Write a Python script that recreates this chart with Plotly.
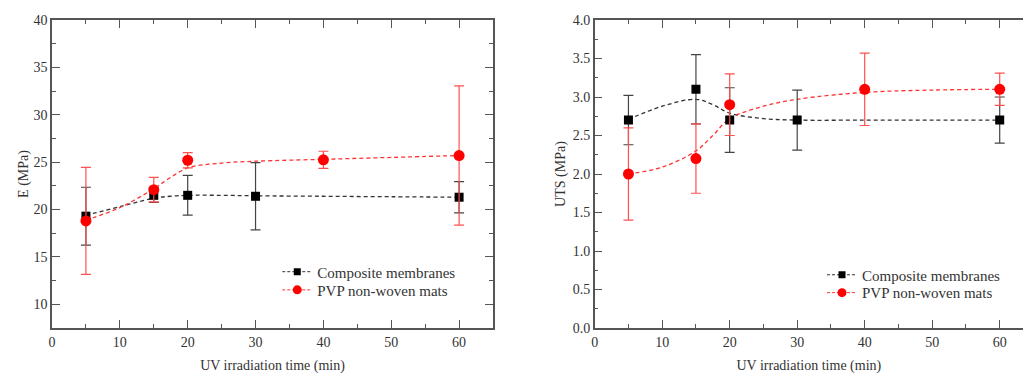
import plotly.graph_objects as go

# ---------------- data ----------------
x_pts = [5, 15, 20, 30, 60]
x_pvp = [5, 15, 20, 40, 60]

# Left panel: Young's modulus E (MPa)
E_comp = [19.3, 21.5, 21.5, 21.4, 21.3]
E_comp_err = [3.05, 0.75, 2.1, 3.55, 1.65]
E_pvp = [18.8, 22.1, 25.2, 25.25, 25.7]
E_pvp_err = [5.65, 1.3, 0.8, 0.9, 7.35]

# Right panel: UTS (MPa)
UTS_comp = [2.7, 3.1, 2.7, 2.7, 2.7]
UTS_comp_err = [0.32, 0.45, 0.42, 0.39, 0.3]
UTS_pvp = [2.0, 2.2, 2.9, 3.1, 3.1]
UTS_pvp_err = [0.6, 0.45, 0.4, 0.47, 0.21]

# fitted (guide) curves
fit_x = [5, 10, 15, 17.5, 20, 25, 30, 40, 50, 60]
E_comp_fit = [19.4, 20.3, 21.2, 21.4, 21.5, 21.5, 21.45, 21.4, 21.35, 21.3]
E_pvp_fit = [18.9, 20.2, 22.2, 23.4, 24.4, 24.9, 25.1, 25.3, 25.5, 25.7]
UTS_comp_fit = [2.71, 2.88, 2.97, 2.9, 2.79, 2.72, 2.70, 2.70, 2.70, 2.70]
UTS_pvp_fit = [2.0, 2.09, 2.3, 2.5, 2.72, 2.88, 2.97, 3.06, 3.09, 3.1]

names = ["Composite membranes", "PVP non-woven mats"]
x_title = "UV irradiation time (min)"
y_titles = ["E (MPa)", "UTS (MPa)"]

BLACK = "#000000"
RED = "#ff0000"
FONT = "Times New Roman, Liberation Serif, serif"

fig = go.Figure()

def add_panel(xa, ya, comp, comp_err, pvp, pvp_err, comp_fit, pvp_fit, legends):
    # fit lines
    fig.add_trace(go.Scatter(x=fit_x, y=comp_fit, mode="lines", line_shape="spline",
                             line=dict(color="#333333", width=1.3, dash="4px,3px"),
                             xaxis=xa, yaxis=ya, showlegend=False, hoverinfo="skip"))
    fig.add_trace(go.Scatter(x=fit_x, y=pvp_fit, mode="lines", line_shape="spline",
                             line=dict(color="#ff3333", width=1.3, dash="4px,3px"),
                             xaxis=xa, yaxis=ya, showlegend=False, hoverinfo="skip"))
    # points with error bars
    fig.add_trace(go.Scatter(x=x_pts, y=comp, mode="markers",
                             marker=dict(symbol="square", size=9, color=BLACK),
                             error_y=dict(type="data", array=comp_err, color="#444444",
                                          thickness=1.2, width=5),
                             xaxis=xa, yaxis=ya, showlegend=False))
    fig.add_trace(go.Scatter(x=x_pvp, y=pvp, mode="markers",
                             marker=dict(symbol="circle", size=11, color=RED),
                             error_y=dict(type="data", array=pvp_err, color="#ff5050",
                                          thickness=1.2, width=5),
                             xaxis=xa, yaxis=ya, showlegend=False))
    # legend entries
    fig.add_trace(go.Scatter(x=[None], y=[None], mode="lines+markers", name=names[0],
                             line=dict(color="#333333", width=1, dash="3px,2px"),
                             marker=dict(symbol="square", size=7, color=BLACK),
                             xaxis=xa, yaxis=ya, legend=legends[0]))
    fig.add_trace(go.Scatter(x=[None], y=[None], mode="lines+markers", name=names[1],
                             line=dict(color="#ff3333", width=1, dash="3px,2px"),
                             marker=dict(symbol="circle", size=9, color=RED),
                             xaxis=xa, yaxis=ya, legend=legends[1]))

add_panel("x", "y", E_comp, E_comp_err, E_pvp, E_pvp_err, E_comp_fit, E_pvp_fit,
          ("legend", "legend2"))
add_panel("x2", "y2", UTS_comp, UTS_comp_err, UTS_pvp, UTS_pvp_err, UTS_comp_fit, UTS_pvp_fit,
          ("legend3", "legend4"))

axis_common = dict(showline=True, linecolor="#555555", linewidth=1.5,
                   ticks="inside", ticklen=8, tickwidth=1.3, tickcolor="#555555",
                   showgrid=False, zeroline=False,
                   tickfont=dict(family=FONT, size=14, color="#333333"),
                   title_font=dict(family=FONT, size=14, color="#333333"))
minor = dict(ticks="inside", ticklen=4, tickwidth=1.3, tickcolor="#555555", showgrid=False)

def leg(x, y):
    return dict(x=x, y=y, xanchor="left", yanchor="middle",
                bgcolor="rgba(0,0,0,0)", font=dict(family=FONT, size=15, color="#333333"),
                tracegroupgap=0)

fig.update_layout(
    width=1023, height=374,
    margin=dict(l=52, r=0, t=20, b=46),
    paper_bgcolor="white", plot_bgcolor="white",
    font=dict(family=FONT, color="#333333"),
    xaxis=dict(axis_common, domain=[0, 0.4542], range=[0, 65], dtick=10, tick0=0,
               minor=dict(minor, dtick=5), mirror="allticks", anchor="y",
               title=dict(text=x_title, standoff=12)),
    yaxis=dict(axis_common, range=[7.5, 40], dtick=5, tick0=10,
               minor=dict(minor, dtick=2.5), mirror="allticks", anchor="x",
               title=dict(text=y_titles[0], standoff=2)),
    xaxis2=dict(axis_common, domain=[0.5589, 1], range=[0, 63.45], dtick=10, tick0=0,
                minor=dict(minor, dtick=5), mirror="allticks", anchor="y2",
                title=dict(text=x_title, standoff=12)),
    yaxis2=dict(axis_common, range=[0, 4], dtick=0.5, tick0=0, tickformat=".1f",
                minor=dict(minor, dtick=0.25), mirror=False, anchor="x2",
                title=dict(text=y_titles[1], standoff=4)),
    legend=leg(0.232, 0.182),
    legend2=leg(0.232, 0.123),
    legend3=leg(0.793, 0.172),
    legend4=leg(0.793, 0.114),
)

fig.write_html("out.html")
